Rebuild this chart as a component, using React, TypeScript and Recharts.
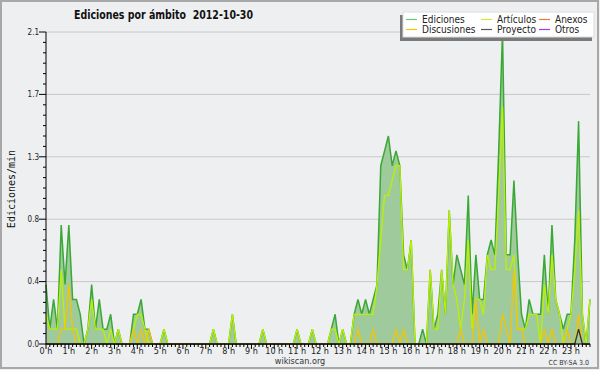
import React from "react";
import { ComposedChart, Area, Line, XAxis, YAxis, CartesianGrid } from "recharts";

// one value per 10 minutes, 00:00 .. 23:50 (edits per minute)
const ediciones = [
  0.4, 0.1, 0.3, 0.1, 0.8, 0.4, 0.8, 0.3, 0.3, 0.2,
  0, 0.1, 0.4, 0.1, 0.3, 0.1, 0.1, 0.2, 0, 0.1,
  0, 0, 0, 0.2, 0.2, 0.3, 0.1, 0.1, 0, 0,
  0, 0.1, 0, 0, 0, 0, 0, 0, 0, 0,
  0, 0, 0, 0, 0.1, 0, 0, 0, 0, 0.2,
  0, 0, 0, 0, 0, 0, 0, 0.1, 0, 0,
  0, 0, 0, 0, 0, 0, 0.1, 0, 0, 0,
  0.1, 0, 0, 0, 0, 0.1, 0.2, 0, 0.1, 0,
  0, 0.2, 0.3, 0.2, 0.3, 0.2, 0.3, 0.4, 1.2, 1.3,
  1.4, 1.2, 1.3, 1.2, 0.6, 0.5, 0.7, 0, 0, 0.1,
  0, 0.5, 0.1, 0.2, 0.5, 0.2, 0.9, 0.4, 0.6, 0.5,
  0.4, 1.0, 0.2, 0.6, 0.3, 0.3, 0.6, 0.7, 0.6, 1.3,
  2.1, 0.6, 0.6, 1.1, 0.6, 0.2, 0.1, 0.3, 0.2, 0.2,
  0.2, 0.6, 0.2, 0.8, 0.3, 0.2, 0.1, 0.2, 0.2, 0.7,
  1.5, 0.2, 0, 0.3,
];

const articulos = [
  0.2, 0.1, 0.1, 0.1, 0.5, 0.1, 0.1, 0.1, 0.1, 0,
  0, 0.1, 0.3, 0.1, 0.1, 0.1, 0, 0.1, 0, 0.1,
  0, 0, 0, 0.1, 0.2, 0.2, 0.1, 0, 0, 0,
  0, 0.1, 0, 0, 0, 0, 0, 0, 0, 0,
  0, 0, 0, 0, 0.1, 0, 0, 0, 0, 0.2,
  0, 0, 0, 0, 0, 0, 0, 0.1, 0, 0,
  0, 0, 0, 0, 0, 0, 0.1, 0, 0, 0,
  0.1, 0, 0, 0, 0, 0.1, 0.1, 0, 0.1, 0,
  0, 0.2, 0.2, 0.2, 0.2, 0.2, 0.2, 0.4, 0.7, 1.0,
  1.0, 1.1, 1.2, 1.2, 0.5, 0.5, 0.7, 0, 0, 0,
  0, 0.5, 0.1, 0.1, 0.5, 0.2, 0.9, 0.4, 0.3, 0.1,
  0.3, 0.7, 0.1, 0.3, 0.3, 0.2, 0.6, 0.5, 0.5, 1.0,
  1.6, 0.5, 0.5, 0.6, 0.1, 0.1, 0.1, 0.2, 0.2, 0.2,
  0, 0.4, 0.2, 0.6, 0.3, 0.2, 0, 0.1, 0.2, 0.5,
  0.9, 0.2, 0, 0.3,
];

const discusiones = [
  0, 0, 0, 0, 0.1, 0.1, 0.4, 0.1, 0, 0,
  0, 0, 0, 0, 0, 0, 0, 0, 0, 0,
  0, 0, 0, 0.1, 0, 0.1, 0, 0.1, 0, 0,
  0, 0, 0, 0, 0, 0, 0, 0, 0, 0,
  0, 0, 0, 0, 0, 0, 0, 0, 0, 0,
  0, 0, 0, 0, 0, 0, 0, 0, 0, 0,
  0, 0, 0, 0, 0, 0, 0, 0, 0, 0,
  0, 0, 0, 0, 0, 0, 0, 0, 0, 0,
  0, 0, 0.1, 0, 0, 0, 0.1, 0, 0, 0,
  0, 0, 0.1, 0, 0.1, 0, 0, 0, 0, 0,
  0, 0, 0, 0, 0, 0, 0, 0, 0, 0.1,
  0, 0, 0, 0.3, 0, 0.1, 0, 0, 0, 0,
  0.2, 0.1, 0, 0.5, 0.1, 0.1, 0, 0, 0, 0,
  0, 0.1, 0, 0.1, 0, 0, 0, 0.1, 0, 0,
  0.2, 0, 0, 0,
];

const proyecto = [
  0, 0, 0, 0, 0, 0, 0, 0, 0, 0,
  0, 0, 0, 0, 0, 0, 0, 0, 0, 0,
  0, 0, 0, 0, 0, 0, 0, 0, 0, 0,
  0, 0, 0, 0, 0, 0, 0, 0, 0, 0,
  0, 0, 0, 0, 0, 0, 0, 0, 0, 0,
  0, 0, 0, 0, 0, 0, 0, 0, 0, 0,
  0, 0, 0, 0, 0, 0, 0, 0, 0, 0,
  0, 0, 0, 0, 0, 0, 0, 0, 0, 0,
  0, 0, 0, 0, 0, 0, 0, 0, 0, 0,
  0, 0, 0, 0, 0, 0, 0, 0, 0, 0,
  0, 0, 0, 0, 0, 0, 0, 0, 0, 0,
  0, 0, 0, 0, 0, 0, 0, 0, 0, 0,
  0, 0, 0, 0, 0, 0, 0, 0, 0, 0,
  0, 0, 0, 0, 0, 0, 0, 0, 0, 0,
  0.1, 0, 0, 0,
];

const hourLabels = [
  "0 h", "1 h", "2 h", "3 h", "4 h", "5 h", "6 h", "7 h", "8 h", "9 h", "10 h", "11 h",
  "12 h", "13 h", "14 h", "15 h", "16 h", "17 h", "18 h", "19 h", "20 h", "21 h", "22 h", "23 h",
];
const yLabels = ["0.0", "0.4", "0.8", "1.3", "1.7", "2.1"];
const yMajor = [0, 0.42, 0.84, 1.26, 1.68, 2.1];

const legendItems = [
  { name: "Ediciones", color: "#66c870" },
  { name: "Discusiones", color: "#f5c800" },
  { name: "Artículos", color: "#c8f030" },
  { name: "Proyecto", color: "#555555" },
  { name: "Anexos", color: "#f07840" },
  { name: "Otros", color: "#9a40f0" },
];

const data = ediciones.map((v, i) => ({
  slot: i,
  ediciones: v,
  articulos: articulos[i],
  discusiones: discusiones[i],
  proyecto: proyecto[i],
}));

const xTicks = data.map((d) => d.slot);
const yTicks = Array.from({ length: 31 }, (_, k) => Math.round(k * 7) / 100);

const FONT = "'DejaVu Sans Condensed', 'DejaVu Sans', sans-serif";

const XTick = ({ x, y, payload }: any) => {
  const major = payload.value % 6 === 0;
  return (
    <g>
      <line x1={x} x2={x} y1={y} y2={y + (major ? 5 : 3)} stroke="#000" />
      {major && (
        <text x={x} y={y + 10} textAnchor="middle" fontSize={9} fill="#222" fontFamily={FONT}>
          {hourLabels[payload.value / 6]}
        </text>
      )}
    </g>
  );
};

const YTick = ({ x, y, index }: any) => {
  const major = index % 6 === 0;
  return (
    <g>
      <line x1={x - (major ? 7 : 3)} x2={x} y1={y} y2={y} stroke="#000" />
      {major && (
        <text x={x - 7} y={y} dy="0.35em" textAnchor="end" fontSize={8} fill="#222" fontFamily={FONT}>
          {yLabels[index / 6]}
        </text>
      )}
    </g>
  );
};

export default function App() {
  const cols = [406, 481, 539];
  return (
    <div style={{ position: "fixed", left: 0, top: 0, width: 600, height: 370, background: "#eeeff1" }}>
      <ComposedChart
        width={600}
        height={370}
        data={data}
        margin={{ top: 32, right: 10, bottom: 0, left: 0 }}
      >
        <CartesianGrid vertical={false} horizontalValues={yMajor} stroke="#c8c8c8" />
        <XAxis
          type="number"
          dataKey="slot"
          domain={[0, 143]}
          ticks={xTicks}
          interval={0}
          height={26}
          tickSize={0}
          tickMargin={0}
          tickLine={false}
          tick={<XTick />}
          axisLine={{ stroke: "#000" }}
        />
        <YAxis
          domain={[0, 2.1]}
          ticks={yTicks}
          interval={0}
          width={46}
          tickSize={0}
          tickMargin={0}
          tickLine={false}
          tick={<YTick />}
          axisLine={{ stroke: "#000" }}
        />
        <Area
          type="linear"
          dataKey="ediciones"
          stroke="#3aa836"
          strokeWidth={1.5}
          fill="#9fcb9c"
          fillOpacity={1}
          dot={false}
          activeDot={false}
          isAnimationActive={false}
        />
        <Line type="linear" dataKey="articulos" stroke="#bdf000" strokeWidth={1.3} dot={false} activeDot={false} isAnimationActive={false} />
        <Line type="linear" dataKey="discusiones" stroke="#f5c400" strokeWidth={1.3} dot={false} activeDot={false} isAnimationActive={false} />
        <Line type="linear" dataKey="proyecto" stroke="#333333" strokeWidth={1.3} dot={false} activeDot={false} isAnimationActive={false} />
      </ComposedChart>
      <svg width={600} height={370} style={{ position: "absolute", left: 0, top: 0, pointerEvents: "none" }}>
        <rect x={1} y={1} width={597} height={367} fill="none" stroke="#a8a8a8" strokeWidth={2} />
        <text x={74} y={19} fontSize={13} fontWeight="bold" fontFamily={FONT} fill="#111" textLength={179} lengthAdjust="spacingAndGlyphs">
          {"Ediciones por ámbito\u00a0\u00a02012-10-30"}
        </text>
        <text
          transform="translate(15 189) rotate(-90)"
          textAnchor="middle"
          fontSize={10}
          fontFamily="'DejaVu Sans Mono', monospace"
          fill="#111"
        >
          Ediciones/min
        </text>
        <text x={300} y={364} textAnchor="middle" fontSize={9} fontFamily={FONT} fill="#333">
          wikiscan.org
        </text>
        <text x={589} y={365} textAnchor="end" fontSize={7} fontFamily={FONT} fill="#333">
          CC BY-SA 3.0
        </text>
        <rect x={400} y={15} width={192} height={26} fill="#7a7a7a" />
        <rect x={403} y={12} width={191} height={25} fill="#ffffff" stroke="#dddddd" />
        {legendItems.map((it, k) => {
          const col = Math.floor(k / 2);
          const row = k % 2;
          const lx = cols[col];
          const ly = 19.5 + row * 10;
          return (
            <g key={it.name}>
              <line x1={lx} x2={lx + 11} y1={ly} y2={ly} stroke={it.color} strokeWidth={1.2} />
              <text x={lx + 16} y={ly + 3.5} fontSize={10} fontFamily={FONT} fill="#222">
                {it.name}
              </text>
            </g>
          );
        })}
      </svg>
    </div>
  );
}
